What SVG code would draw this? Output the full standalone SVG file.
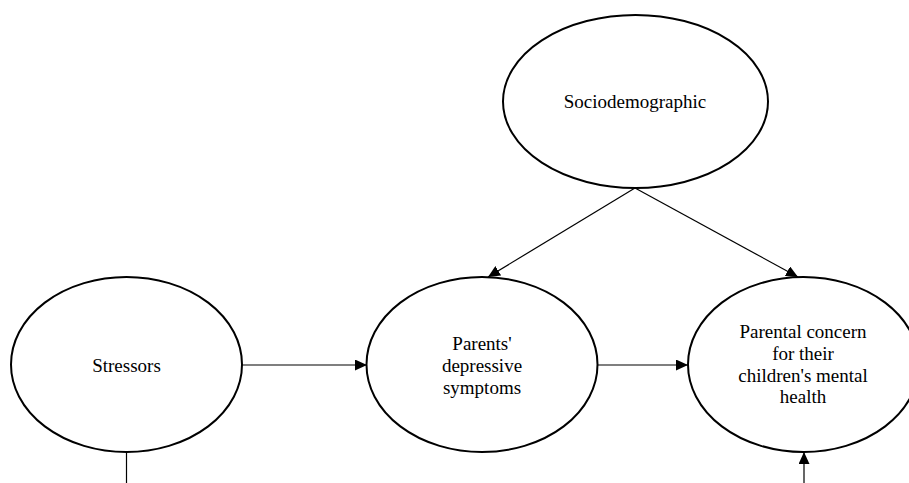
<svg xmlns="http://www.w3.org/2000/svg" width="909" height="483" viewBox="0 0 909 483">
<style>
.node ellipse{fill:#fff;stroke:#000;stroke-width:2}
.node text{font-family:"Liberation Serif","Times New Roman",serif;font-size:19px;fill:#000;text-anchor:middle}
.conn line{stroke:#000;stroke-width:1.2}
</style>
<defs>
<marker id="ah" markerUnits="userSpaceOnUse" markerWidth="13" markerHeight="11" refX="12" refY="5.5" orient="auto">
<path d="M0,0 L12,5.5 L0,11 Z" fill="#000"/>
</marker>
</defs>
<rect width="909" height="483" fill="#fff"/>
<g id="connectors" class="conn">
<line x1="635" y1="188" x2="488" y2="277" marker-end="url(#ah)"/>
<line x1="635" y1="188" x2="798" y2="277" marker-end="url(#ah)"/>
<line x1="242" y1="365" x2="367" y2="365" marker-end="url(#ah)"/>
<line x1="598" y1="365" x2="688" y2="365" marker-end="url(#ah)"/>
<line x1="126.5" y1="452" x2="126.5" y2="483"/>
<line x1="804" y1="483" x2="804" y2="452" marker-end="url(#ah)"/>
</g>
<g id="sociodemographic" class="node">
<ellipse cx="635.5" cy="101.5" rx="132.5" ry="86.5"/>
<text x="635" y="108">Sociodemographic</text>
</g>
<g id="stressors" class="node">
<ellipse cx="126.5" cy="364.5" rx="115.5" ry="87.5"/>
<text x="126.5" y="372">Stressors</text>
</g>
<g id="parents" class="node">
<ellipse cx="482" cy="364.5" rx="115.5" ry="87.5"/>
<text x="482" y="350">Parents'</text>
<text x="482" y="372">depressive</text>
<text x="482" y="393.5">symptoms</text>
</g>
<g id="parental" class="node">
<ellipse cx="803.5" cy="364.5" rx="115.5" ry="87.5"/>
<text x="803" y="338">Parental concern</text>
<text x="803" y="360">for their</text>
<text x="803" y="382">children's mental</text>
<text x="803" y="403">health</text>
</g>
</svg>
